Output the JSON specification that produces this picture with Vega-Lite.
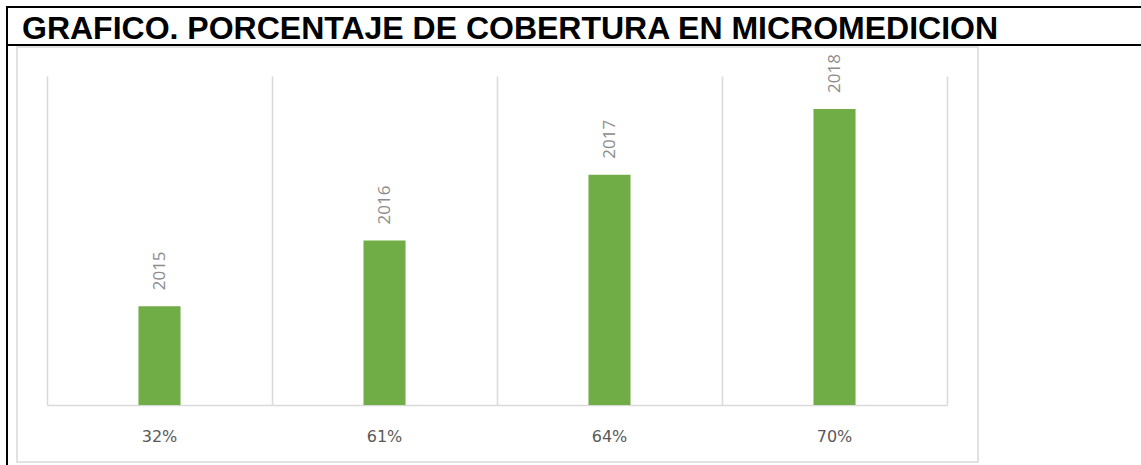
{
  "$schema": "https://vega.github.io/schema/vega-lite/v6.json",
  "width": 900,
  "height": 329,
  "autosize": {"type": "none"},
  "padding": {"left": 47, "top": 76, "right": 194, "bottom": 60},
  "background": "white",
  "config": {"view": {"stroke": null}},
  "data": {
    "values": [
      {"cobertura": "32%", "anio": 2015},
      {"cobertura": "61%", "anio": 2016},
      {"cobertura": "64%", "anio": 2017},
      {"cobertura": "70%", "anio": 2018}
    ]
  },
  "layer": [
    {
      "data": {"values": [{}]},
      "mark": {"type": "rect", "x": -30, "y": -29, "x2": 931, "y2": 386, "fill": null, "stroke": "#d9d9d9", "strokeWidth": 1.5},
      "encoding": {}
    },
    {
      "data": {"values": [{}]},
      "mark": {"type": "rect", "x": -41, "y": -70, "x2": 1110, "y2": -68, "fill": "#000000"},
      "encoding": {}
    },
    {
      "data": {"values": [{}]},
      "mark": {"type": "rect", "x": -41, "y": -32, "x2": 1110, "y2": -30, "fill": "#000000"},
      "encoding": {}
    },
    {
      "data": {"values": [{}]},
      "mark": {"type": "rect", "x": -41, "y": -70, "x2": -39, "y2": 400, "fill": "#000000"},
      "encoding": {}
    },
    {
      "data": {"values": [{"titulo": "GRAFICO. PORCENTAJE DE COBERTURA EN MICROMEDICION"}]},
      "mark": {"type": "text", "x": -25, "y": -37, "align": "left", "baseline": "alphabetic", "font": "Liberation Sans", "fontSize": 32, "fontWeight": "bold", "color": "#000000"},
      "encoding": {"text": {"field": "titulo", "type": "nominal"}}
    },
    {
      "mark": {"type": "bar", "color": "#70ad47", "width": {"band": 0.187}},
      "encoding": {
        "x": {
          "field": "cobertura",
          "type": "nominal",
          "sort": null,
          "scale": {"paddingInner": 0, "paddingOuter": 0},
          "axis": {
            "title": null,
            "labelAngle": 0,
            "labelFont": "DejaVu Sans",
            "labelFontSize": 16,
            "labelColor": "#595959",
            "labelPadding": 23,
            "ticks": false,
            "domain": true,
            "domainColor": "#d9d9d9",
            "domainWidth": 1.5,
            "grid": true,
            "gridColor": "#d9d9d9",
            "gridWidth": 1.5,
            "bandPosition": 0
          }
        },
        "y": {
          "field": "anio",
          "type": "quantitative",
          "scale": {"domain": [2013.5, 2018.5], "zero": false, "nice": false},
          "axis": {
            "orient": "right",
            "title": null,
            "labels": false,
            "ticks": false,
            "grid": false,
            "domain": true,
            "domainColor": "#d9d9d9",
            "domainWidth": 1.5
          }
        },
        "y2": {"datum": 2013.5}
      }
    },
    {
      "mark": {"type": "text", "angle": 270, "align": "left", "baseline": "middle", "dx": 16, "font": "Open Sans", "fontSize": 17, "color": "#8c8c8c"},
      "encoding": {
        "x": {"field": "cobertura", "type": "nominal", "sort": null},
        "y": {"field": "anio", "type": "quantitative"},
        "text": {"field": "anio", "type": "quantitative", "format": "d"}
      }
    }
  ]
}
